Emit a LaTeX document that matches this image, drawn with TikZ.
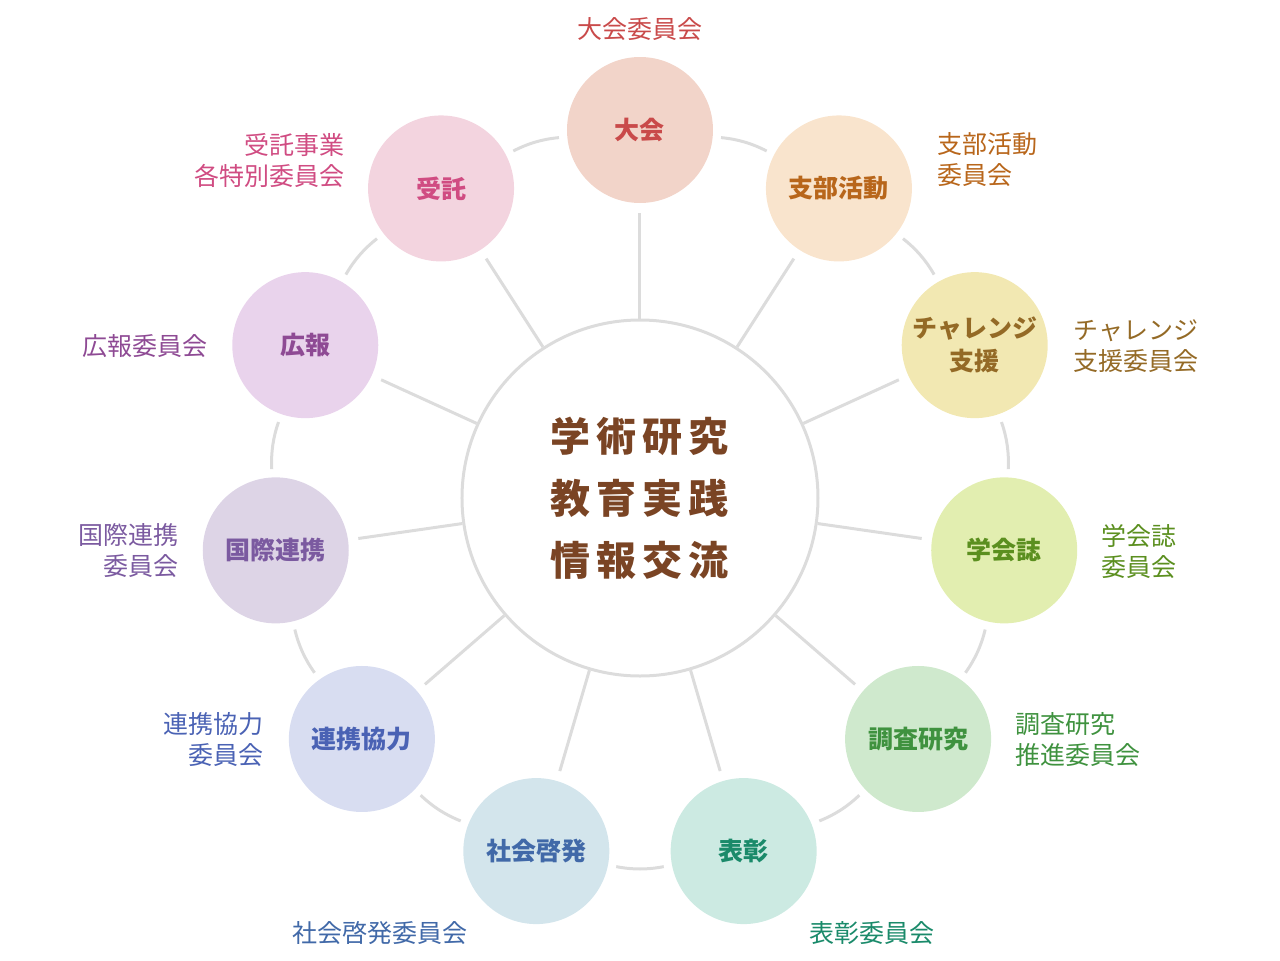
\documentclass[tikz,border=0pt]{standalone}
\usepackage{fontspec}
\setmainfont{Noto Sans CJK JP}

\definecolor{linegray}{HTML}{DCDCDC}
\definecolor{hubtext}{HTML}{7A4424}
\definecolor{taikai-bg}{HTML}{F2D4C9}    \definecolor{taikai-fg}{HTML}{C94A4A}
\definecolor{shibu-bg}{HTML}{F9E4CD}     \definecolor{shibu-fg}{HTML}{B8661B}
\definecolor{challenge-bg}{HTML}{F2E8B2} \definecolor{challenge-fg}{HTML}{946A26}
\definecolor{gakkai-bg}{HTML}{E2EEB0}    \definecolor{gakkai-fg}{HTML}{5B8F1F}
\definecolor{chousa-bg}{HTML}{CFE9CD}    \definecolor{chousa-fg}{HTML}{3F923F}
\definecolor{hyoushou-bg}{HTML}{CCEAE2}  \definecolor{hyoushou-fg}{HTML}{1A8A6A}
\definecolor{shakai-bg}{HTML}{D3E5EC}    \definecolor{shakai-fg}{HTML}{4169A8}
\definecolor{renkei-bg}{HTML}{D8DDF1}    \definecolor{renkei-fg}{HTML}{4A62B4}
\definecolor{kokusai-bg}{HTML}{DDD4E6}   \definecolor{kokusai-fg}{HTML}{7B5AA0}
\definecolor{kouhou-bg}{HTML}{E9D3EC}    \definecolor{kouhou-fg}{HTML}{8E4A94}
\definecolor{jutaku-bg}{HTML}{F3D4DF}    \definecolor{jutaku-fg}{HTML}{D04C82}

\newcommand\hubgap{\kern3pt}

\tikzset{
  hub/.style={circle,draw=linegray,line width=1.5pt,minimum size=178pt,inner sep=0pt,
    align=center,text=hubtext,font=\bfseries\fontsize{20}{31}\selectfont},
  unit/.style={circle,minimum size=73pt,inner sep=0pt,align=center,
    font=\bfseries\fontsize{12.5}{16.5}\selectfont},
  link/.style={draw=linegray,line width=1.5pt},
  committee/.style={inner sep=0pt,font=\fontsize{12.5}{15.5}\selectfont},
}

\begin{document}
\begin{tikzpicture}[x=0.5pt,y=0.5pt]
	\useasboundingbox (-640,-462) rectangle (640,498);
	\node[hub] (hub) at (0,0) {学\hubgap 術\hubgap 研\hubgap 究\\教\hubgap 育\hubgap 実\hubgap 践\\情\hubgap 報\hubgap 交\hubgap 流};
	% units round the hub
	\foreach \lab/\col [count=\i from 0] in {大会/taikai,支部活動/shibu,{チャレンジ\\支援}/challenge,学会誌/gakkai,調査研究/chousa,表彰/hyoushou,社会啓発/shakai,連携協力/renkei,国際連携/kokusai,広報/kouhou,受託/jutaku}
		\node[unit,fill=\col-bg,text=\col-fg] (u\i) at ({90-\i*360/11}:368) {\lab};
	\foreach \i in {0,...,10} {
		\pgfmathtruncatemacro\j{mod(\i+1,11)}
		\draw[link,shorten >=5pt] (hub) -- (u\i);
		\draw[link,shorten >=4pt,shorten <=4pt] (u\i) to[bend left=11] (u\j);
	}
	% committees
	\node[committee,text=taikai-fg] (l0) at (0,469) {大会委員会};
	\node[committee,text=shibu-fg,anchor=west,align=left] (l1) at (297,338) {支部活動\\委員会};
	\node[committee,text=challenge-fg,anchor=west,align=left] (l2) at (433,152) {チャレンジ\\支援委員会};
	\node[committee,text=gakkai-fg,anchor=west,align=left] (l3) at (461,-53) {学会誌\\委員会};
	\node[committee,text=chousa-fg,anchor=west,align=left] (l4) at (375,-242) {調査研究\\推進委員会};
	\node[committee,text=hyoushou-fg] (l5) at (232,-435) {表彰委員会};
	\node[committee,text=shakai-fg] (l6) at (-260,-435) {社会啓発委員会};
	\node[committee,text=renkei-fg,anchor=east,align=right] (l7) at (-376,-242) {連携協力\\委員会};
	\node[committee,text=kokusai-fg,anchor=east,align=right] (l8) at (-461,-53) {国際連携\\委員会};
	\node[committee,text=kouhou-fg,anchor=east] (l9) at (-432,152) {広報委員会};
	\node[committee,text=jutaku-fg,anchor=east,align=right] (l10) at (-295,338) {受託事業\\各特別委員会};
\end{tikzpicture}
\end{document}
